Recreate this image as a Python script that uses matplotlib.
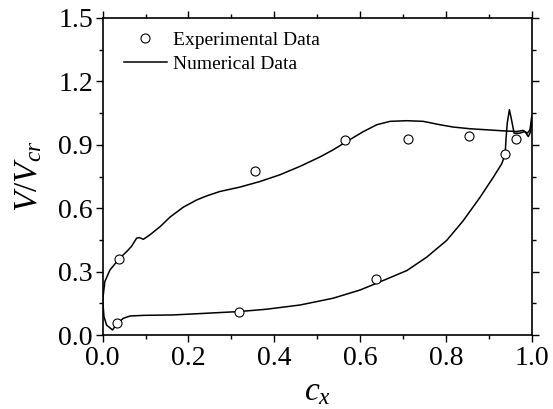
import matplotlib
matplotlib.use("Agg")
import matplotlib.pyplot as plt
from matplotlib.ticker import MultipleLocator, FormatStrFormatter

# Experimental data points
exp_x = [0.033, 0.039, 0.318, 0.355, 0.565, 0.712, 0.854, 0.938, 0.963, 0.638]
exp_y = [0.055, 0.362, 0.109, 0.778, 0.921, 0.928, 0.943, 0.855, 0.928, 0.267]

# Numerical data - upper branch (leading edge to trailing edge)
upper_x = [0.0, 0.005, 0.017, 0.039, 0.056, 0.067, 0.079, 0.085, 0.095, 0.110,
           0.134, 0.157, 0.188, 0.219, 0.242, 0.273, 0.320, 0.366, 0.413, 0.460,
           0.506, 0.537, 0.569, 0.608, 0.639, 0.670, 0.709, 0.747, 0.786, 0.817,
           0.856, 0.895, 0.934, 0.965, 0.980, 0.990, 0.996, 1.0]
upper_y = [0.166, 0.253, 0.308, 0.362, 0.395, 0.419, 0.458, 0.461, 0.453, 0.474,
           0.513, 0.558, 0.605, 0.639, 0.658, 0.679, 0.700, 0.726, 0.758, 0.798,
           0.842, 0.876, 0.916, 0.963, 0.995, 1.011, 1.014, 1.011, 0.995, 0.984,
           0.976, 0.971, 0.966, 0.963, 0.968, 0.955, 0.971, 1.034]

# Numerical data - lower branch (leading edge to trailing edge)
lower_x = [0.0, 0.003, 0.009, 0.023, 0.033, 0.048, 0.064, 0.095, 0.165, 0.242,
           0.318, 0.382, 0.460, 0.537, 0.600, 0.654, 0.709, 0.755, 0.802, 0.840,
           0.879, 0.910, 0.930, 0.938, 0.940, 0.943, 0.948, 0.953, 0.959, 0.972,
           0.984, 0.992, 0.996, 1.0]
lower_y = [0.166, 0.087, 0.047, 0.024, 0.052, 0.079, 0.090, 0.093, 0.095, 0.103,
           0.111, 0.122, 0.142, 0.174, 0.213, 0.258, 0.305, 0.368, 0.448, 0.540,
           0.650, 0.745, 0.810, 0.853, 0.924, 1.003, 1.066, 1.018, 0.955, 0.955,
           0.963, 0.939, 0.955, 1.002]

plt.rcParams['font.family'] = ['Liberation Serif', 'DejaVu Serif']
plt.rcParams['mathtext.fontset'] = 'custom'
plt.rcParams['mathtext.it'] = 'Liberation Serif:italic'
plt.rcParams['mathtext.rm'] = 'Liberation Serif'

fig = plt.figure(figsize=(5.53, 4.09), dpi=100)
ax = fig.add_axes([0.1857, 0.1809, 0.9615 - 0.1857, 0.956 - 0.1809])

ax.plot(upper_x, upper_y, color='black', lw=1.1, label='Numerical Data', zorder=2)
ax.plot(lower_x, lower_y, color='black', lw=1.1, zorder=2)
ax.plot(exp_x, exp_y, linestyle='none', marker='o', markersize=6.5,
        markerfacecolor='white', markeredgecolor='black', markeredgewidth=0.8,
        label='Experimental Data', zorder=3)

ax.set_xlim(0, 1.0)
ax.set_ylim(0, 1.5)
ax.xaxis.set_major_locator(MultipleLocator(0.2))
ax.xaxis.set_minor_locator(MultipleLocator(0.1))
ax.yaxis.set_major_locator(MultipleLocator(0.3))
ax.yaxis.set_minor_locator(MultipleLocator(0.15))
ax.xaxis.set_major_formatter(FormatStrFormatter('%.1f'))
ax.yaxis.set_major_formatter(FormatStrFormatter('%.1f'))

ax.tick_params(which='major', direction='out', length=5, width=1.0,
               labelsize=20, pad=2, top=True, right=True)
ax.tick_params(which='minor', direction='out', length=3, width=1.0,
               top=True, right=True)
ax.tick_params(axis='x', which='major', pad=3)
for s in ax.spines.values():
    s.set_linewidth(1.2)

ax.set_xlabel(r'$c_x$', fontsize=24, labelpad=4)
ax.set_ylabel(r'$V/V_{cr}$', fontsize=24, labelpad=10)

handles, labels = ax.get_legend_handles_labels()
order = [1, 0]
ax.legend([handles[i] for i in order], [labels[i] for i in order],
          loc='upper left', bbox_to_anchor=(0.018, 1.0), frameon=False,
          fontsize=14, handlelength=2.2, handletextpad=0.3, labelspacing=0.32,
          borderaxespad=0.3)

fig.savefig('out.png', dpi=100)
